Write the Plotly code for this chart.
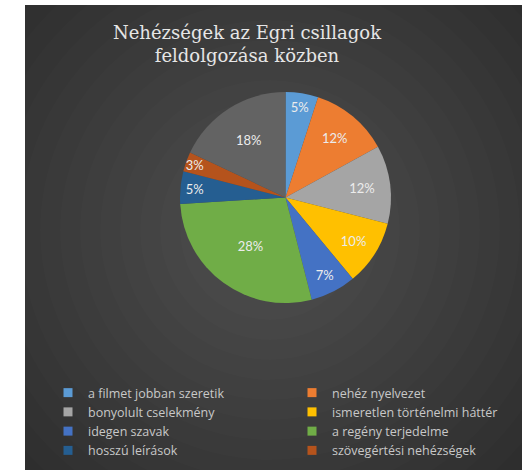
import plotly.graph_objects as go

W, H = 522, 470

labels = ["a filmet jobban szeretik", "nehéz nyelvezet", "bonyolult cselekmény",
          "ismeretlen történelmi háttér", "idegen szavak", "a regény terjedelme",
          "hosszú leírások", "szövegértési nehézségek", "egyéb"]
values = [5, 12, 12, 10, 7, 28, 5, 3, 18]
colors = ["#5B9BD5", "#ED7D31", "#A5A5A5", "#FFC000", "#4472C4", "#70AD47",
          "#255E91", "#B5531C", "#636363"]
legend_count = 8  # the 9th entry is cut off in the original legend

title_text = "Nehézségek az Egri csillagok<br>feldolgozása közben"

def px_x(v):
    return v / W

def px_y(v):
    return 1 - v / H

fig = go.Figure()

fig.add_trace(go.Pie(
    labels=labels, values=values, sort=False, direction="clockwise", rotation=0,
    marker=dict(colors=colors, line=dict(width=0)),
    textinfo="percent", textposition="inside", insidetextorientation="horizontal",
    textfont=dict(family="Lato", size=13, color="#ececec"),
    domain=dict(x=[px_x(180), px_x(391)], y=[px_y(303), px_y(92)]),
    showlegend=False, hoverinfo="label+percent",
))

for i in range(legend_count):
    fig.add_trace(go.Scatter(
        x=[None], y=[None], mode="markers", name=labels[i],
        marker=dict(symbol="square", size=9, color=colors[i]),
        showlegend=True,
    ))

shapes = [
    dict(type="rect", xref="paper", yref="paper", x0=px_x(25), x1=1.1, y0=-0.1, y1=px_y(5),
         fillcolor="#2e2e2e", line=dict(width=0), layer="below"),
]
cx, cy = 270, 230
for k in range(16):
    r = 330 - k * 20
    shapes.append(dict(type="circle", xref="paper", yref="paper",
                       x0=px_x(cx - r), x1=px_x(cx + r), y0=px_y(cy + r), y1=px_y(cy - r),
                       fillcolor="rgba(255,255,255,0.011)", line=dict(width=0), layer="below"))
# white margins over the gradient
shapes.append(dict(type="rect", xref="paper", yref="paper", x0=-0.1, x1=px_x(25), y0=-0.1, y1=1.1,
                   fillcolor="white", line=dict(width=0), layer="below"))
shapes.append(dict(type="rect", xref="paper", yref="paper", x0=-0.1, x1=1.1, y0=px_y(5), y1=1.1,
                   fillcolor="white", line=dict(width=0), layer="below"))

fig.update_layout(
    width=W, height=H,
    margin=dict(l=0, r=0, t=0, b=0, autoexpand=False),
    paper_bgcolor="white", plot_bgcolor="rgba(0,0,0,0)",
    xaxis=dict(visible=False), yaxis=dict(visible=False),
    shapes=shapes,
    title=dict(text=title_text, x=px_x(247), xanchor="center", y=px_y(39), yanchor="top",
               font=dict(family="DejaVu Serif", size=18, color="#e6e6e6")),
    legend=dict(orientation="h", x=px_x(48), xanchor="left", y=px_y(378), yanchor="top",
                entrywidth=199, entrywidthmode="pixels",
                font=dict(family="Open Sans", size=12.5, color="#c8c8c8"),
                bgcolor="rgba(0,0,0,0)", itemclick=False),
    uniformtext=dict(minsize=13, mode="show"),
)

fig.write_html("out.html", config={"displayModeBar": False},
               post_script="document.body.style.margin='0';")
